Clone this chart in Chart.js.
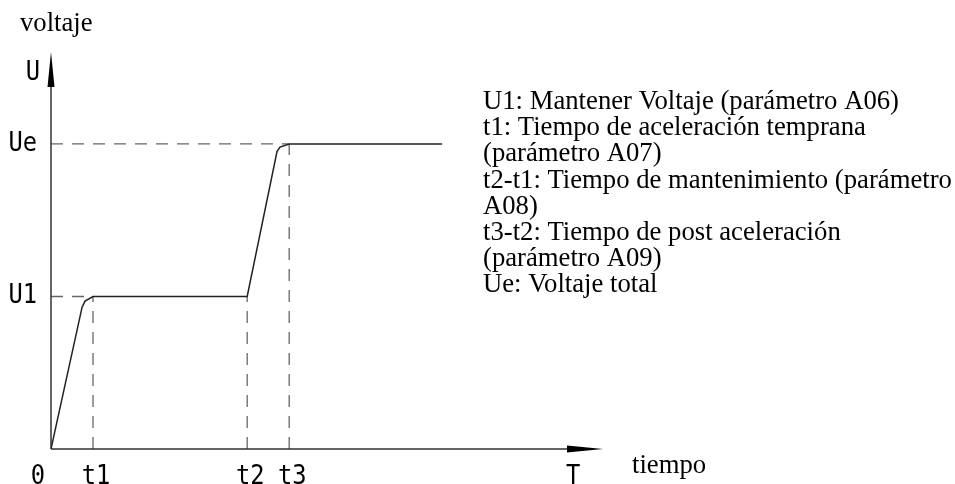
<!DOCTYPE html>
<html>
<head>
<meta charset="utf-8">
<script src="https://cdn.jsdelivr.net/npm/chart.js@4"></script>
<style>
  html, body { margin: 0; padding: 0; background: #fff; }
  #c { display: block; }
</style>
</head>
<body>
<canvas id="c" width="955" height="484"></canvas>
<script>
// ---- data ----
const timeLabels = ['0', 't1', 't2', 't3', 'T'];
const timeValues = [0, 1, 4.67, 5.67, 12.43];
const levelLabels = ['U1', 'Ue'];
const levelValues = [1, 2];
const curveX = [0, 0.74, 0.81, 1, 4.67, 5.38, 5.45, 5.67, 9.31];
const curveY = [0, 0.93, 0.97, 1, 1, 1.95, 1.98, 2, 2];
const axisXMax = 13.14;
const axisYMax = 2.603;
const yAxisTitle = 'U';
const yAxisName = 'voltaje';
const xAxisName = 'tiempo';
const notes = [
  'U1: Mantener Voltaje (parámetro A06)',
  't1: Tiempo de aceleración temprana',
  '(parámetro A07)',
  't2-t1: Tiempo de mantenimiento (parámetro',
  'A08)',
  't3-t2: Tiempo de post aceleración',
  '(parámetro A09)',
  'Ue: Voltaje total'
];

const points = curveX.map((x, i) => ({ x: x, y: curveY[i] }));

const CAD_FONT = '27px "DejaVu Sans Mono"';
const SERIF_FONT = '26.7px "Liberation Serif"';

function cadText(ctx, txt, x, y, align) {
  ctx.save();
  ctx.font = CAD_FONT;
  ctx.textAlign = align;
  ctx.textBaseline = 'middle';
  ctx.translate(x, y);
  ctx.scale(0.88, 1);
  ctx.fillText(txt, 0, 0);
  ctx.restore();
}

const diagram = {
  id: 'diagram',
  beforeDatasetsDraw(chart) {
    const ctx = chart.ctx;
    const xs = chart.scales.x, ys = chart.scales.y;
    const x0 = xs.getPixelForValue(0), y0 = ys.getPixelForValue(0);
    const xEnd = xs.getPixelForValue(axisXMax), yEnd = ys.getPixelForValue(axisYMax);
    ctx.save();
    // dashed guides
    ctx.strokeStyle = '#666';
    ctx.lineWidth = 1.3;
    ctx.setLineDash([12, 9]);
    const t1 = xs.getPixelForValue(timeValues[1]);
    const t2 = xs.getPixelForValue(timeValues[2]);
    const t3 = xs.getPixelForValue(timeValues[3]);
    const u1 = ys.getPixelForValue(levelValues[0]);
    const ue = ys.getPixelForValue(levelValues[1]);
    const guides = [
      [x0, u1, t1, u1], [x0, ue, t3, ue],
      [t1, y0, t1, u1], [t2, y0, t2, u1], [t3, y0, t3, ue]
    ];
    guides.forEach(g => {
      ctx.beginPath();
      ctx.moveTo(g[0], g[1]);
      ctx.lineTo(g[2], g[3]);
      ctx.stroke();
    });
    ctx.setLineDash([]);
    // axes
    ctx.strokeStyle = '#333';
    ctx.fillStyle = '#000';
    ctx.lineWidth = 1.5;
    ctx.beginPath();
    ctx.moveTo(x0, y0); ctx.lineTo(x0, yEnd + 10);
    ctx.moveTo(x0, y0); ctx.lineTo(xEnd - 10, y0);
    ctx.stroke();
    // arrow heads
    ctx.beginPath();
    ctx.moveTo(x0, yEnd);
    ctx.lineTo(x0 - 3.5, yEnd + 35);
    ctx.lineTo(x0 + 3.5, yEnd + 35);
    ctx.closePath();
    ctx.fill();
    ctx.beginPath();
    ctx.moveTo(xEnd, y0);
    ctx.lineTo(xEnd - 36, y0 - 3.5);
    ctx.lineTo(xEnd - 36, y0 + 3.5);
    ctx.closePath();
    ctx.fill();
    ctx.restore();
  },
  afterDraw(chart) {
    const ctx = chart.ctx;
    const xs = chart.scales.x, ys = chart.scales.y;
    const x0 = xs.getPixelForValue(0), y0 = ys.getPixelForValue(0);
    const yEnd = ys.getPixelForValue(axisYMax);
    ctx.save();
    ctx.fillStyle = '#000';
    // axis tick labels
    timeLabels.forEach((lab, i) => {
      let px = xs.getPixelForValue(timeValues[i]);
      if (i === 0) px = x0 - 13;
      else if (i < 4) px += 3;
      cadText(ctx, lab, px, y0 + 28, 'center');
    });
    levelLabels.forEach((lab, i) => {
      cadText(ctx, lab, x0 - 14, ys.getPixelForValue(levelValues[i]), 'right');
    });
    cadText(ctx, yAxisTitle, x0 - 11, yEnd + 21, 'right');
    // serif texts
    ctx.font = SERIF_FONT;
    ctx.textAlign = 'left';
    ctx.textBaseline = 'alphabetic';
    ctx.fillText(yAxisName, 20, 31);
    ctx.fillText(xAxisName, 632, 473);
    notes.forEach((line, i) => {
      ctx.fillText(line, 483, 109 + i * 26.2);
    });
    ctx.restore();
  }
};

new Chart(document.getElementById('c'), {
  type: 'line',
  data: {
    datasets: [{
      data: points,
      borderColor: '#222',
      borderWidth: 1.5,
      pointRadius: 0,
      tension: 0,
      fill: false
    }]
  },
  options: {
    responsive: false,
    animation: false,
    layout: { padding: { left: 51, right: 352, top: 52, bottom: 35 } },
    plugins: { legend: { display: false }, tooltip: { enabled: false } },
    scales: {
      x: { type: 'linear', display: false, min: 0, max: axisXMax },
      y: { type: 'linear', display: false, min: 0, max: axisYMax }
    }
  },
  plugins: [diagram]
});
</script>
</body>
</html>
